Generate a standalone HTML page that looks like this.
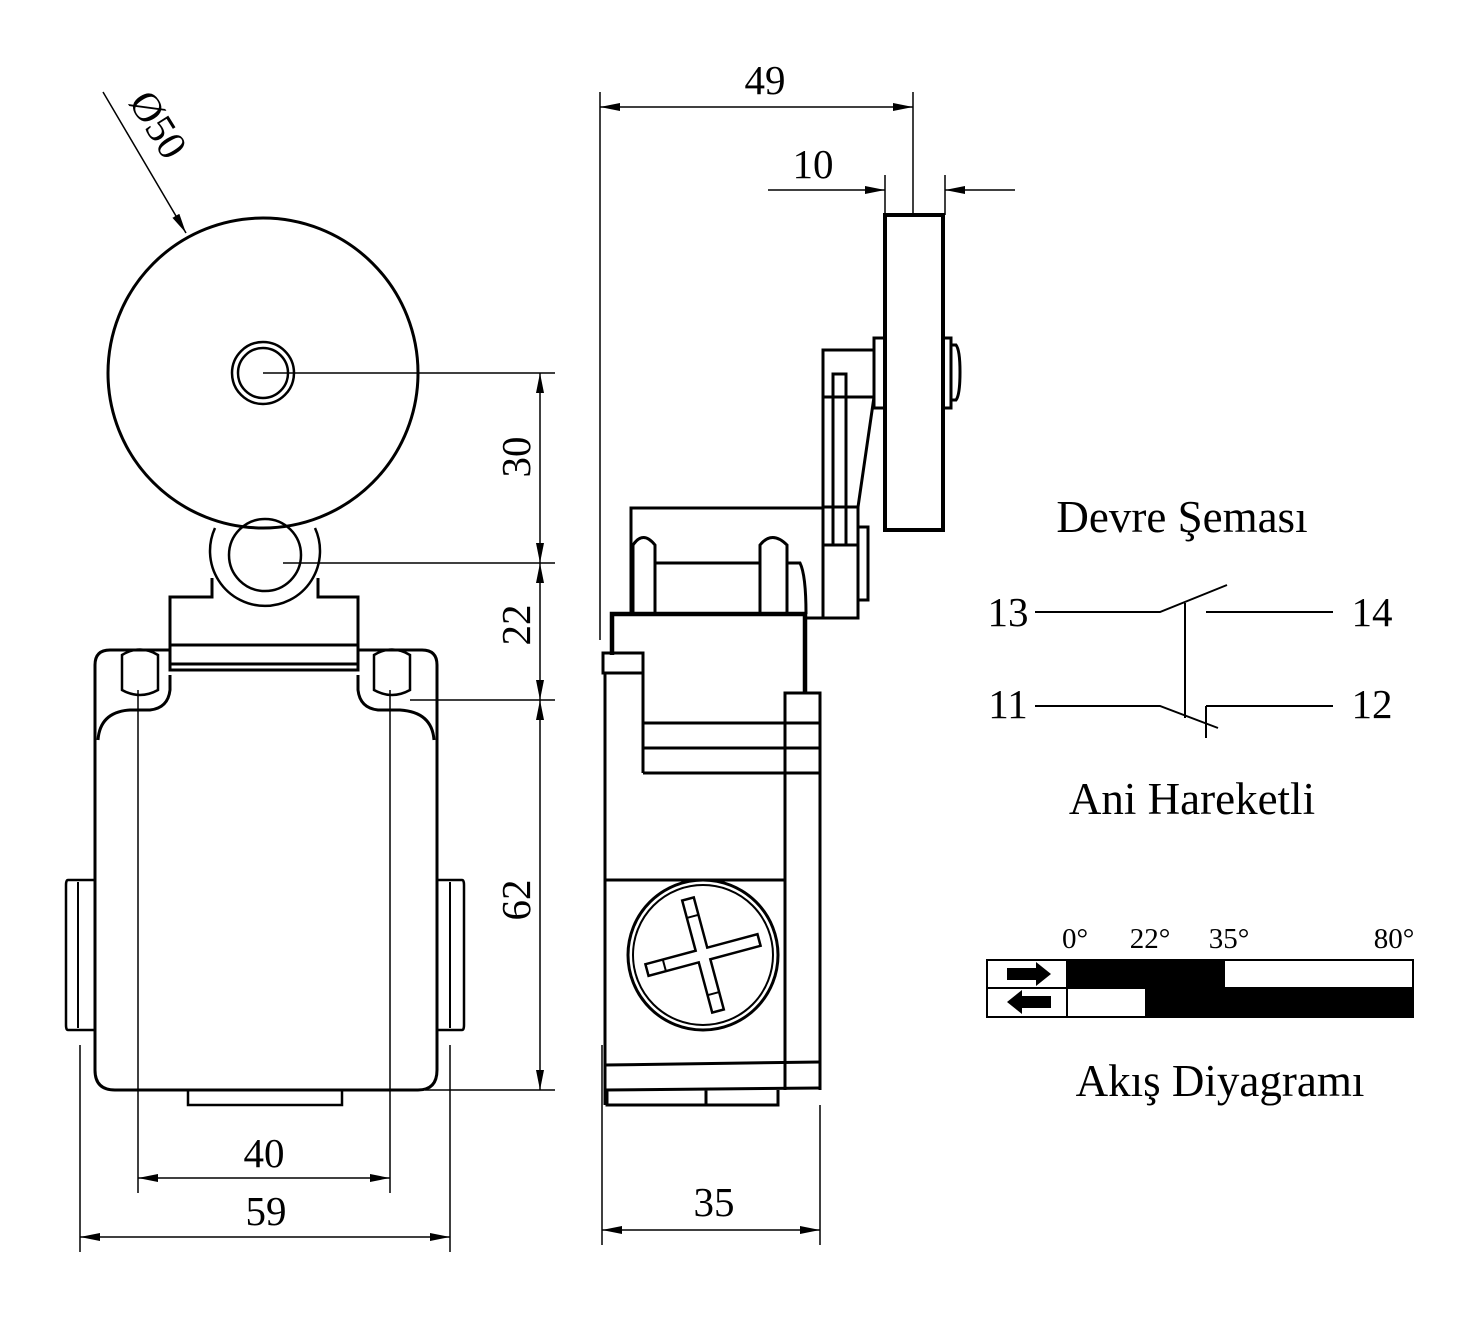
<!DOCTYPE html>
<html><head><meta charset="utf-8"><style>html,body{margin:0;padding:0;background:#fff}svg{display:block}</style></head><body>
<svg width="1483" height="1318" viewBox="0 0 1483 1318" xmlns="http://www.w3.org/2000/svg" font-family="Liberation Serif, serif" fill="none" stroke="#000">
<defs>
<marker id="a" viewBox="0 0 20 8" refX="20" refY="4" markerWidth="20" markerHeight="8" markerUnits="userSpaceOnUse" orient="auto-start-reverse"><path d="M0 0L20 4L0 8z" fill="#000" stroke="none"/></marker>
</defs>
<!-- FRONT VIEW -->
<g stroke-width="3">
<circle cx="263" cy="373" r="155"/>
<circle cx="263" cy="373" r="31" stroke-width="2.5"/>
<circle cx="263" cy="373" r="25" stroke-width="2.5"/>
<path d="M212 578 L212 597 L170 597 L170 670 L358 670 L358 597 L318 597 L318 578"/>
<path d="M215 528 A55 55 0 1 0 315 528" stroke-width="2.5"/>
<circle cx="265" cy="555" r="36" stroke-width="2.5"/>
<line x1="170" y1="645" x2="358" y2="645"/>
<line x1="170" y1="664" x2="358" y2="664"/>
<path d="M170 650 L110 650 Q95 650 95 665 L95 1070 Q95 1090 115 1090 L418 1090 Q437 1090 437 1070 L437 665 Q437 650 422 650 L358 650"/>
<path d="M170 675 L170 690 Q168 708 150 710 L130 710 Q100 712 98 740"/>
<path d="M358 675 L358 690 Q360 708 378 710 L400 710 Q432 712 434 740"/>
<path d="M122 655 Q140 644 158 655 L158 690 Q140 700 122 690 Z" stroke-width="2.5"/>
<path d="M374 655 Q392 644 410 655 L410 690 Q392 700 374 690 Z" stroke-width="2.5"/>
<path d="M95 880 L68 880 Q66 880 66 885 L66 1025 Q66 1030 68 1030 L95 1030" stroke-width="2.5"/>
<line x1="78" y1="882" x2="78" y2="1028" stroke-width="2"/>
<path d="M437 880 L462 880 Q464 880 464 885 L464 1025 Q464 1030 462 1030 L437 1030" stroke-width="2.5"/>
<line x1="450" y1="882" x2="450" y2="1028" stroke-width="2"/>
<rect x="188" y="1090" width="154" height="15" stroke-width="2.5"/>
</g>
<!-- front dims -->
<g stroke-width="1.5">
<line x1="263" y1="373" x2="555" y2="373"/>
<line x1="283" y1="563" x2="555" y2="563"/>
<line x1="410" y1="700" x2="555" y2="700"/>
<line x1="425" y1="1090" x2="555" y2="1090"/>
<line x1="540" y1="373" x2="540" y2="563" marker-start="url(#a)" marker-end="url(#a)"/>
<line x1="540" y1="563" x2="540" y2="700" marker-start="url(#a)" marker-end="url(#a)"/>
<line x1="540" y1="700" x2="540" y2="1090" marker-start="url(#a)" marker-end="url(#a)"/>
<line x1="138" y1="690" x2="138" y2="1193"/>
<line x1="390" y1="690" x2="390" y2="1193"/>
<line x1="138" y1="1178" x2="390" y2="1178" marker-start="url(#a)" marker-end="url(#a)"/>
<line x1="80" y1="1045" x2="80" y2="1252"/>
<line x1="450" y1="1045" x2="450" y2="1252"/>
<line x1="80" y1="1237" x2="450" y2="1237" marker-start="url(#a)" marker-end="url(#a)"/>
<line x1="103" y1="92" x2="186" y2="233" marker-end="url(#a)"/>
</g>
<g fill="#000" stroke="none" font-size="41">
<text x="264" y="1167" text-anchor="middle">40</text>
<text x="266" y="1225" text-anchor="middle">59</text>
<text transform="translate(530,457) rotate(-90)" text-anchor="middle">30</text>
<text transform="translate(530,625) rotate(-90)" text-anchor="middle">22</text>
<text transform="translate(530,900) rotate(-90)" text-anchor="middle">62</text>
<text transform="translate(128,102) rotate(58)">Ø50</text>
<text x="765" y="94" text-anchor="middle">49</text>
<text x="813" y="178" text-anchor="middle">10</text>
<text x="714" y="1216" text-anchor="middle">35</text>
</g>
<!-- SIDE VIEW -->
<g stroke-width="1.5">
<line x1="600" y1="92" x2="600" y2="640"/>
<line x1="913" y1="92" x2="913" y2="215"/>
<line x1="600" y1="107" x2="913" y2="107" marker-start="url(#a)" marker-end="url(#a)"/>
<line x1="885" y1="175" x2="885" y2="215"/>
<line x1="945" y1="175" x2="945" y2="215"/>
<line x1="768" y1="190" x2="885" y2="190" marker-end="url(#a)"/>
<line x1="1015" y1="190" x2="945" y2="190" marker-end="url(#a)"/>
<line x1="602" y1="1045" x2="602" y2="1245"/>
<line x1="820" y1="1105" x2="820" y2="1245"/>
<line x1="602" y1="1230" x2="820" y2="1230" marker-start="url(#a)" marker-end="url(#a)"/>
</g>
<g stroke-width="3">
<rect x="885" y="215" width="58" height="315" stroke-width="4"/>
<rect x="874" y="338" width="11" height="70"/>
<rect x="943" y="338" width="8" height="70"/>
<path d="M951 345 L956 345 Q960 350 960 372 Q960 395 956 400 L951 400"/>
<path d="M874 350 L823 350 L823 618 L858 618 L858 507 L874 397 M823 397 L874 397"/>
<path d="M833 545 L833 374 L846 374 L846 545 M823 545 L858 545 M823 507 L858 507"/>
<rect x="858" y="527" width="10" height="73"/>
<path d="M631 614 L631 508 L823 508"/>
<path d="M633 614 L633 545 Q643 530 655 545 L655 614 M655 563 L760 563 M760 614 L760 545 Q772 530 787 545 L787 614 M787 563 L800 563 Q806 575 806 614"/>
<path d="M612 655 L612 614 L805 614 L805 693" stroke-width="4.5"/>
<line x1="805" y1="618" x2="823" y2="618"/>
<rect x="603" y="653" width="40" height="20"/>
<path d="M605 673 L605 1105 M643 673 L643 773 M643 723 L820 723 M643 748 L820 748 M643 773 L820 773"/>
<path d="M785 1090 L785 693 L820 693 L820 1090"/>
<path d="M605 880 L786 880 M605 1065 L820 1062 M605 1090 L820 1088 M607 1090 L607 1105 L778 1105 L778 1090 M706 1090 L706 1105"/>
<circle cx="703" cy="955" r="75"/>
<circle cx="703" cy="955" r="70" stroke-width="2"/>
<g transform="translate(703,955) rotate(-15)">
<path d="M-6 -6 L-6 -58 L6 -58 L6 -6 L58 -6 L58 6 L6 6 L6 58 L-6 58 L-6 6 L-58 6 L-58 -6 Z" stroke-width="2.5"/>
<line x1="-6" y1="-40" x2="6" y2="-40" stroke-width="2"/><line x1="-6" y1="40" x2="6" y2="40" stroke-width="2"/><line x1="-40" y1="-6" x2="-40" y2="6" stroke-width="2"/>
</g>
</g>
<!-- right panel -->
<g fill="#000" stroke="none" font-size="41">
<text x="1182" y="532" text-anchor="middle" font-size="45">Devre Şeması</text>
<text x="1008" y="626" text-anchor="middle">13</text>
<text x="1372" y="626" text-anchor="middle">14</text>
<text x="1008" y="718" text-anchor="middle">11</text>
<text x="1372" y="718" text-anchor="middle">12</text>
<text x="1192" y="814" text-anchor="middle" font-size="45">Ani Hareketli</text>
<text x="1220" y="1096" text-anchor="middle" font-size="45">Akış Diyagramı</text>
<g font-size="29"><text x="1075" y="948" text-anchor="middle">0°</text><text x="1150" y="948" text-anchor="middle">22°</text><text x="1229" y="948" text-anchor="middle">35°</text><text x="1394" y="948" text-anchor="middle">80°</text></g>
</g>
<g stroke-width="2">
<path d="M1035 612 L1160 612 L1227 585 M1206 612 L1333 612 M1185 603 L1185 718"/>
<path d="M1035 706 L1160 706 L1218 728 M1206 706 L1333 706 M1206 706 L1206 738"/>
</g>
<g stroke-width="2">
<rect x="987" y="960" width="426" height="57"/>
<line x1="987" y1="988" x2="1413" y2="988"/>
<line x1="1067" y1="960" x2="1067" y2="1017"/>
</g>
<g fill="#000" stroke="none">
<rect x="1067" y="960" width="158" height="28"/>
<rect x="1145" y="988" width="268" height="29"/>
<path d="M1007 968 L1036 968 L1036 962 L1051 974 L1036 986 L1036 980 L1007 980 Z"/>
<path d="M1051 996 L1022 996 L1022 990 L1007 1002 L1022 1014 L1022 1008 L1051 1008 Z"/>
</g>
</svg>
</body></html>
